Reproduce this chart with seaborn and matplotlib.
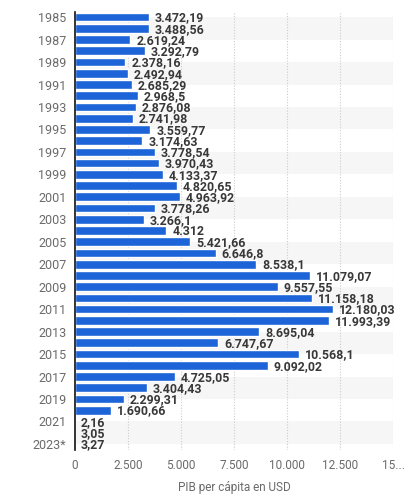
import matplotlib
matplotlib.use("Agg")
import matplotlib.pyplot as plt
import seaborn as sns
import pandas as pd

years = ["1985", "1986", "1987", "1988", "1989", "1990", "1991", "1992", "1993", "1994",
         "1995", "1996", "1997", "1998", "1999", "2000", "2001", "2002", "2003", "2004",
         "2005", "2006", "2007", "2008", "2009", "2010", "2011", "2012", "2013", "2014",
         "2015", "2016", "2017", "2018", "2019", "2020", "2021", "2022", "2023*"]
values = [3472.19, 3488.56, 2619.24, 3292.79, 2378.16, 2492.94, 2685.29, 2968.5, 2876.08, 2741.98,
          3559.77, 3174.63, 3778.54, 3970.43, 4133.37, 4820.65, 4963.92, 3778.26, 3266.1, 4312,
          5421.66, 6646.8, 8538.1, 11079.07, 9557.55, 11158.18, 12180.03, 11993.39, 8695.04, 6747.67,
          10568.1, 9092.02, 4725.05, 3404.43, 2299.31, 1690.66, 2.16, 3.05, 3.27]
x_ticks = [0, 2500, 5000, 7500, 10000, 12500, 15000]
x_tick_labels = ["0", "2.500", "5.000", "7.500", "10.000", "12.500", "15..."]
x_label = "PIB per cápita en USD"


def fmt(v):
    s = f"{v:,.2f}".rstrip("0").rstrip(".")
    return s.replace(",", "X").replace(".", ",").replace("X", ".")


sns.set_theme(style="white")
plt.rcParams["font.family"] = ["Roboto", "DejaVu Sans"]

df = pd.DataFrame({"year": years, "value": values})

fig = plt.figure(figsize=(4.16, 5.0), dpi=100)
ax = fig.add_axes([0.180, 0.101, 0.765, 0.876])

# alternating background bands between labelled ticks
for start in range(0, len(years) - 1, 4):
    ax.axhspan(start, start + 2, color="#f6f6f6", zorder=0, lw=0)

sns.barplot(data=df, x="value", y="year", orient="h", color="#1c64d8",
            saturation=1, width=0.78, ax=ax, zorder=3)

for i, v in enumerate(values):
    ax.text(v + 280, i + 0.08, fmt(v), va="center", ha="left",
            fontsize=8.9, fontweight="bold", color="#383838", zorder=4)

ax.set_xlim(0, 15000)
ax.set_ylim(len(years) - 0.5, -0.5)
ax.set_xticks(x_ticks)
ax.set_xticklabels(x_tick_labels, fontsize=8.5, color="#6a6a6a")
ax.set_yticks(range(0, len(years), 2))
ax.set_yticklabels(years[::2], fontsize=9, color="#6a6a6a")
ax.tick_params(axis="both", length=0)
ax.tick_params(axis="x", pad=7)
ax.tick_params(axis="y", pad=6)
ax.set_xlabel(x_label, fontsize=8.5, color="#6a6a6a", labelpad=6)
ax.set_ylabel("")

for xt in x_ticks[1:]:
    ax.axvline(xt, color="#cccccc", lw=0.8, ls=(0, (1, 1.5)), zorder=1)

for s in ["top", "right", "bottom"]:
    ax.spines[s].set_visible(False)
ax.spines["left"].set_color("#111111")
ax.spines["left"].set_linewidth(1.2)
ax.spines["left"].set_zorder(5)

fig.savefig("out.png", dpi=100)
